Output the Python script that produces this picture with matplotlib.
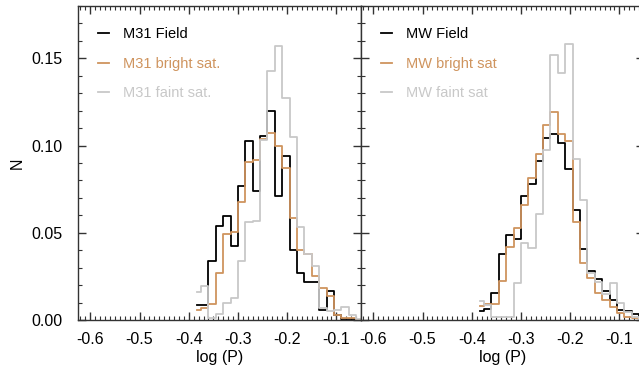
import matplotlib
matplotlib.use('Agg')
import matplotlib.pyplot as plt
from matplotlib.ticker import MultipleLocator, FormatStrFormatter

plt.rcParams['font.family'] = ['Liberation Sans', 'DejaVu Sans']
plt.rcParams['axes.unicode_minus'] = False

# bin centres of log(P) histograms
log_p_centers = [-0.3825, -0.3675, -0.3525, -0.3375, -0.3225, -0.3075, -0.2925,
                 -0.2775, -0.2625, -0.2475, -0.2325, -0.2175, -0.2025, -0.1875,
                 -0.1725, -0.1575, -0.1425, -0.1275, -0.1125, -0.0975, -0.0825,
                 -0.0675, -0.0525]

m31_field = [0.0085, 0.0086, 0.034, 0.054, 0.0596, 0.0424, 0.0769, 0.1025, 0.0739,
             0.1054, 0.1199, 0.0712, 0.0941, 0.040, 0.027, 0.022, 0.022, 0.0057,
             0.0168, 0.003, 0.0006, 0.0006, 0.0]
m31_bright = [0.006, 0.0068, 0.0092, 0.0271, 0.0493, 0.0502, 0.0678, 0.0905, 0.0916,
              0.104, 0.107, 0.0997, 0.087, 0.0586, 0.040, 0.038, 0.025, 0.0184,
              0.0138, 0.003, 0.001, 0.001, 0.0]
m31_faint = [0.016, 0.0195, 0.0012, 0.0033, 0.0095, 0.0126, 0.034, 0.056, 0.0569,
             0.103, 0.1428, 0.1573, 0.127, 0.105, 0.0532, 0.038, 0.031, 0.0068,
             0.0053, 0.0058, 0.0073, 0.0028, 0.0008]

mw_field = [0.005, 0.0065, 0.0156, 0.038, 0.0487, 0.0462, 0.071, 0.078, 0.0912,
            0.1046, 0.1065, 0.1015, 0.0867, 0.063, 0.0405, 0.028, 0.0235, 0.0167,
            0.0117, 0.0055, 0.0052, 0.0035, 0.002]
mw_bright = [0.008, 0.009, 0.009, 0.0224, 0.042, 0.0525, 0.0662, 0.0812, 0.0953,
             0.112, 0.1195, 0.1065, 0.1025, 0.0563, 0.0325, 0.0239, 0.0153, 0.0117,
             0.0072, 0.004, 0.0015, 0.001, 0.001]
mw_faint = [0.011, 0.0085, 0.0015, 0.0015, 0.0015, 0.021, 0.044, 0.041, 0.0605,
            0.0976, 0.1518, 0.1414, 0.158, 0.0923, 0.0688, 0.027, 0.022, 0.015,
            0.021, 0.0097, 0.0045, 0.0015, 0.0]

left_labels = ['M31 Field', 'M31 bright sat.', 'M31 faint sat.']
right_labels = ['MW Field', 'MW bright sat', 'MW faint sat']
x_ticks = [-0.6, -0.5, -0.4, -0.3, -0.2, -0.1]
y_ticks = [0.00, 0.05, 0.10, 0.15]

colors = ['black', '#CF945E', '#C8C8C8']

fig = plt.figure(figsize=(6.39, 3.72), dpi=100)
ax1 = fig.add_axes([78/639, 52/372, 283/639, 314/372])
ax2 = fig.add_axes([361/639, 52/372, 283/639, 314/372])

for ax, series, labels in [(ax1, [m31_field, m31_bright, m31_faint], left_labels),
                           (ax2, [mw_field, mw_bright, mw_faint], right_labels)]:
    for vals, c, lab in zip(series, colors, labels):
        ax.step(log_p_centers, vals, where='mid', color=c, lw=1.3, label=lab)
    ax.set_xlim(-0.625, -0.05)
    ax.set_ylim(0, 0.18)
    ax.set_xticks(x_ticks)
    ax.set_yticks(y_ticks)
    ax.xaxis.set_major_formatter(FormatStrFormatter('%.1f'))
    ax.yaxis.set_major_formatter(FormatStrFormatter('%.2f'))
    ax.xaxis.set_minor_locator(MultipleLocator(0.01))
    ax.yaxis.set_minor_locator(MultipleLocator(0.01))
    ax.tick_params(which='both', direction='in', top=True, right=True,
                   labelsize=11.5, color='#333333')
    ax.tick_params(which='major', length=6, width=1)
    ax.tick_params(which='minor', length=3, width=0.8)
    ax.tick_params(axis='x', pad=9)
    ax.tick_params(axis='y', pad=11)
    for s in ax.spines.values():
        s.set_linewidth(1.0)
        s.set_color('#333333')
    ax.set_xlabel('log (P)', fontsize=11.5, labelpad=2)
    leg = ax.legend(loc='upper left', bbox_to_anchor=(0.07, 0.932), frameon=False,
                    handlelength=0.75, handletextpad=1.0, labelspacing=1.05,
                    borderaxespad=0, borderpad=0, fontsize=10.5, labelcolor='linecolor')

ax1.set_ylabel('N', fontsize=11.5, labelpad=5)
ax2.tick_params(axis='y', labelleft=False)

fig.savefig('out.png', dpi=100)
